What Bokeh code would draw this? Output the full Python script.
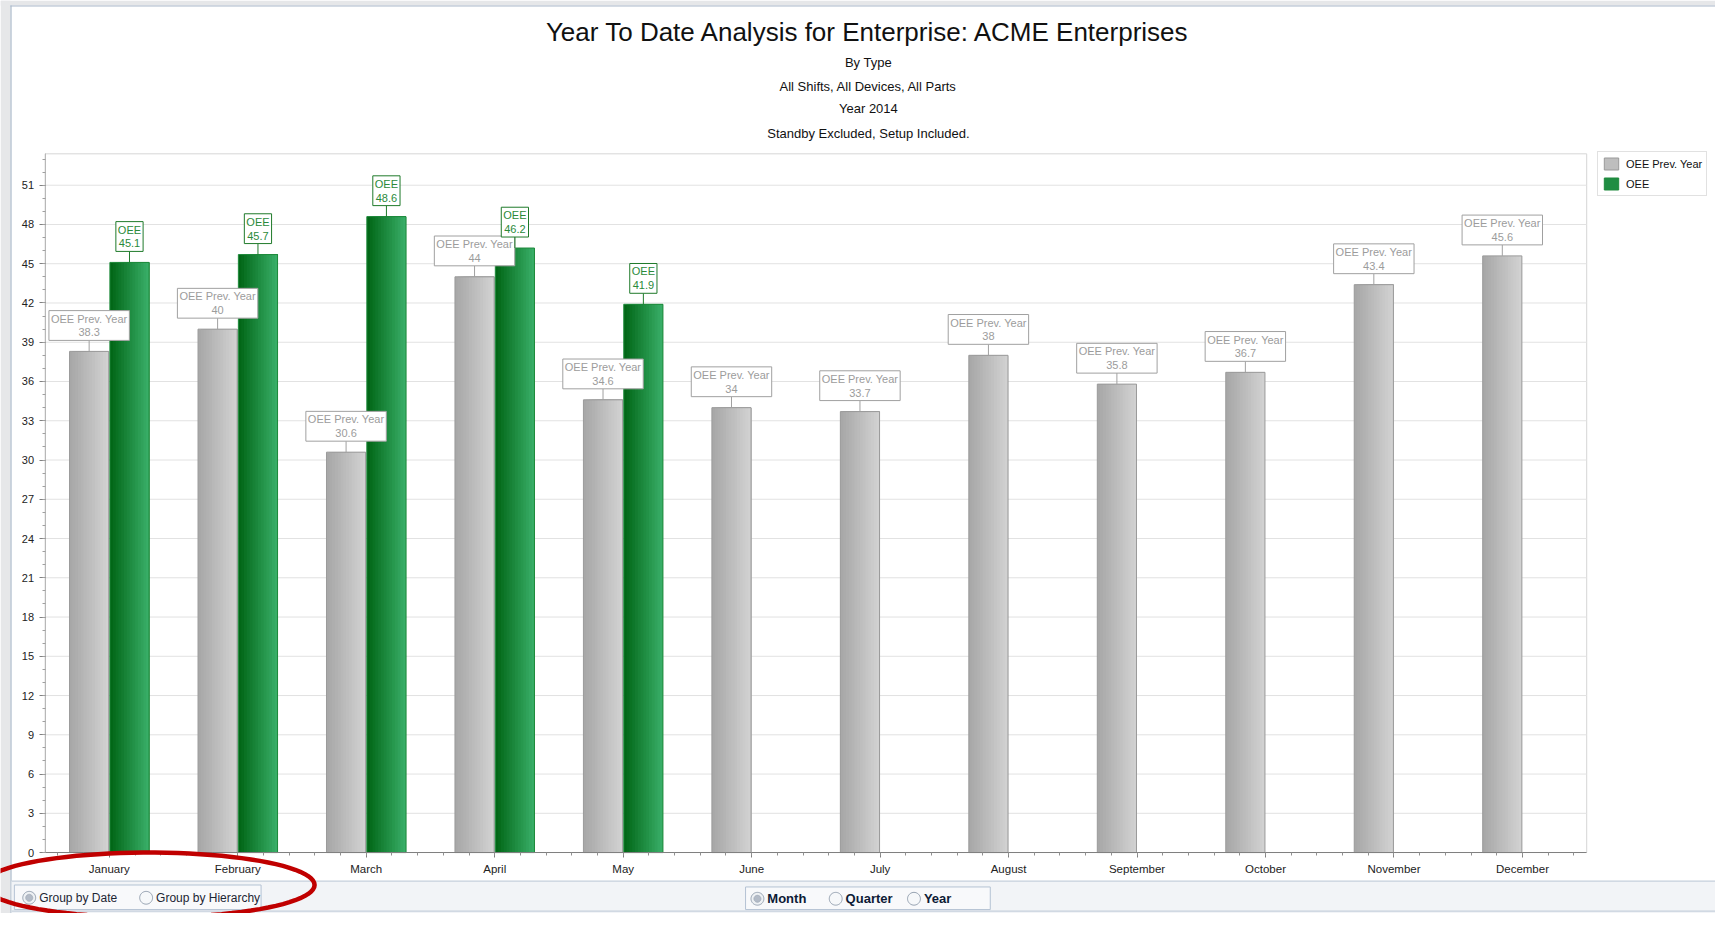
import math
from bokeh.plotting import figure
from bokeh.models import (ColumnDataSource, Range1d, FixedTicker, SingleIntervalTicker,
                          Legend, LegendItem, Label, BoxAnnotation, PolyAnnotation)
from bokeh.transform import dodge
from bokeh.core.properties import value
from bokeh.embed import file_html
from bokeh.resources import INLINE

# ---------------- data ----------------
months = ["January", "February", "March", "April", "May", "June", "July",
          "August", "September", "October", "November", "December"]
prev_year = [38.3, 40, 30.6, 44, 34.6, 34, 33.7, 38, 35.8, 36.7, 43.4, 45.6]
oee = [45.1, 45.7, 48.6, 46.2, 41.9]
title_text = "Year To Date Analysis for Enterprise: ACME Enterprises"
subtitles = ["By Type", "All Shifts, All Devices, All Parts", "Year 2014",
             "Standby Excluded, Setup Included."]
series_names = ["OEE Prev. Year", "OEE"]
y_max = 53.4
y_step = 3

FONT = "Liberation Sans"

xc = [i + 0.5 for i in range(len(months))]
src_prev = ColumnDataSource(dict(
    xc=xc, top=prev_year,
    lab=[f"{series_names[0]}\n{v:g}" for v in prev_year]))
src_oee = ColumnDataSource(dict(
    xc=xc[:len(oee)], top=oee,
    lab=[f"{series_names[1]}\n{v:g}" for v in oee]))
grid_vals = [k * y_step for k in range(1, int(y_max // y_step) + 1)]

# ---------------- geometry (reference pixels -> data) ----------------
W, H = 1715, 913
RW, RH = 1731.0, 929.0                 # reference picture size
SX, SY = W / RW, H / RH
FL, FR, FT, FB = 45.0, 1601.0, 156.0, 867.0      # plot area in reference pixels
CW = (FR - FL) / len(months)
PPU = (FB - FT) / y_max
def XD(px):
    return (px - FL) / CW
def YD(py):
    return (FB - py) / PPU

p = figure(width=W, height=H,
           x_range=Range1d(XD(0), XD(RW)), y_range=Range1d(YD(RH), YD(0)),
           output_backend="svg", toolbar_location=None,
           background_fill_color="white", border_fill_color="white",
           outline_line_color=None)
p.min_border = 0
p.xgrid.visible = False
p.ygrid.visible = False

# axes drawn at the data origin
xa = p.xaxis[0]
xa.fixed_location = 0
xa.bounds = (0, len(months))
xa.ticker = FixedTicker(ticks=xc, minor_ticks=[0.1 + 0.2 * k for k in range(5 * len(months))])
xa.major_label_overrides = {x: m for x, m in zip(xc, months)}
xa.major_label_text_font = FONT
xa.major_label_text_font_size = "11.5px"
xa.major_label_text_color = "#222222"
xa.major_label_standoff = 5
xa.axis_line_color = "#808080"
xa.major_tick_line_color = "#808080"
xa.minor_tick_line_color = "#909090"
xa.major_tick_out = 5
xa.major_tick_in = 0
xa.minor_tick_out = 3
xa.minor_tick_in = 0

ya = p.yaxis[0]
ya.fixed_location = 0
ya.bounds = (0, y_max)
ya.ticker = SingleIntervalTicker(interval=y_step, num_minor_ticks=3)
ya.major_label_text_font = FONT
ya.major_label_text_font_size = "11px"
ya.major_label_text_color = "#222222"
ya.major_label_standoff = 5
ya.axis_line_color = "#b8b8b8"
ya.major_tick_line_color = "#808080"
ya.minor_tick_line_color = "#a0a0a0"
ya.major_tick_out = 6
ya.major_tick_in = 0
ya.minor_tick_out = 3
ya.minor_tick_in = 0

# plot-area frame and horizontal grid lines
p.add_layout(BoxAnnotation(left=0, right=len(months), bottom=0, top=y_max,
                           fill_alpha=0.0, line_color="#d6d6d6", line_alpha=1.0,
                           line_width=1, level="underlay"))
p.segment(x0=0, x1=len(months), y0=grid_vals, y1=grid_vals,
          line_color="#e2e2e2", line_width=1)

# ---------------- bars with horizontal gradient ----------------
BW = 0.305
OFF = 0.157
NSTRIP = 14

def hex2rgb(h):
    h = h.lstrip("#")
    return tuple(int(h[i:i + 2], 16) for i in (0, 2, 4))

def mix(c0, c1, t):
    a, b = hex2rgb(c0), hex2rgb(c1)
    return "#%02x%02x%02x" % tuple(round(a[i] + (b[i] - a[i]) * t) for i in range(3))

def gradient_bars(src, offset, c0, c1, edge):
    left = offset - BW / 2
    right = offset + BW / 2
    mid = None
    for k in range(NSTRIP):
        xl = left + k * BW / NSTRIP
        r = p.vbar(x=dodge("xc", (xl + right) / 2), top="top", bottom=0, width=right - xl,
                   source=src, fill_color=mix(c0, c1, (k + 0.5) / NSTRIP), line_color=None)
        if k == NSTRIP // 2:
            mid = r
    outline = p.vbar(x=dodge("xc", offset), top="top", bottom=0, width=BW, source=src,
                     fill_color=None, line_color=edge, line_width=1)
    return mid, outline

g_mid, g_out = gradient_bars(src_prev, -OFF, "#a6a6a6", "#d3d3d3", "#9a9a9a")
e_mid, e_out = gradient_bars(src_oee, OFF, "#006414", "#3ab06a", "#1f8a3c")

# connectors + callout labels
GRAY_T = "#9c9c9c"
GREEN_T = "#2a8a3a"
for src, offset, lc, tc in ((src_prev, -OFF, "#a0a0a0", GRAY_T),
                            (src_oee, OFF, "#1f7a2a", GREEN_T)):
    p.ray(x=dodge("xc", offset), y="top", length=11, length_units="screen",
          angle=math.pi / 2, source=src, line_color=lc, line_width=1)
    p.text(x=dodge("xc", offset), y="top", text="lab", source=src,
           text_font=value(FONT), text_font_size="11px", text_color=tc,
           text_align="center", text_baseline="bottom", text_line_height=1.15,
           y_offset=-11, padding=2,
           background_fill_color="white", border_line_color=lc, border_line_width=1)

# legend (placed right of the plot area)
legend = Legend(items=[LegendItem(label=series_names[0], renderers=[g_mid, g_out]),
                       LegendItem(label=series_names[1], renderers=[e_mid, e_out])],
                location=(round(1612 * SX), round((RH - 199) * SY)), orientation="vertical",
                label_text_font=FONT, label_text_font_size="11px", label_text_color="#111111",
                glyph_width=18, glyph_height=15, label_height=15, label_standoff=6,
                spacing=5, padding=4, margin=0,
                border_line_color="#c4c4c4", background_fill_color="white",
                background_fill_alpha=1.0)
p.add_layout(legend)

# ---------------- titles ----------------
p.add_layout(Label(x=XD(876), y=YD(32), text=title_text, text_align="center",
                   text_baseline="middle", text_font=FONT, text_font_size="26px",
                   text_color="#111111"))
for s, yy in zip(subtitles, [63, 87, 110, 135]):
    p.add_layout(Label(x=XD(876), y=YD(yy), text=s, text_align="center",
                       text_baseline="middle", text_font=FONT, text_font_size="13px",
                       text_color="#111111"))

# ---------------- window chrome / bottom panel ----------------
def box(l, r, t, b, fill, line=None, lw=1):
    p.add_layout(BoxAnnotation(left=XD(l), right=XD(r), top=YD(t), bottom=YD(b),
                               fill_color=fill, fill_alpha=1.0,
                               line_color=line, line_alpha=1.0 if line else 0.0,
                               line_width=lw, level="overlay"))

box(0, 10, 0, 929, "#e6e7e9")
box(0, 1731, 0, 5, "#e6e7e9")
box(10, 11.2, 5, 929, "#a9b8ca")
box(10, 1731, 5, 6.2, "#a9b8ca")
box(11.2, 1731, 896, 929, "#f2f4f7")
box(11.2, 1731, 895.5, 896.7, "#c6d0dc")
box(11.2, 1731, 926, 927.2, "#c6d0dc")
box(14, 263, 900, 925, "#f8f9fb", "#b4c2d3")
box(752, 999, 902, 925, "#f8f9fb", "#b4c2d3")

def circle_poly(cx, cy, r, fill, line, lw=1, n=40):
    xs = [XD(cx + r * math.cos(2 * math.pi * k / n)) for k in range(n)]
    ys = [YD(cy + r * math.sin(2 * math.pi * k / n)) for k in range(n)]
    p.add_layout(PolyAnnotation(xs=xs, ys=ys, fill_color=fill, fill_alpha=1.0 if fill else 0.0,
                                line_color=line, line_alpha=1.0 if line else 0.0,
                                line_width=lw, level="overlay"))

radio = [("Group by Date", 29, 913, True, False),
         ("Group by Hierarchy", 147, 913, False, False),
         ("Month", 764, 914, True, True),
         ("Quarter", 843, 914, False, True),
         ("Year", 922, 914, False, True)]
for txt, cx, cy, sel, bold in radio:
    circle_poly(cx, cy, 6.5, "#eef1f4" if sel else "#f6f8fa", "#97a3b2")
    if sel:
        circle_poly(cx, cy, 3.5, "#b3bbc7", "#a7b0bd")
    p.add_layout(Label(x=XD(cx + 10), y=YD(cy), text=txt, text_align="left",
                       text_baseline="middle", text_font=FONT,
                       text_font_size="13px" if bold else "12px",
                       text_font_style="bold" if bold else "normal",
                       text_color="#0d1b36" if bold else "#1c2533", level="overlay"))

# red hand-drawn ellipse highlight
ecx, ecy, ea, eb = 150, 900, 167, 33
n = 90
p.add_layout(PolyAnnotation(
    xs=[XD(ecx + ea * math.cos(2 * math.pi * k / n)) for k in range(n)],
    ys=[YD(ecy + eb * math.sin(2 * math.pi * k / n)) for k in range(n)],
    fill_alpha=0.0, line_color="#c00000", line_alpha=1.0, line_width=4.5, level="overlay"))

open("out.html", "w").write(file_html(p, INLINE))
